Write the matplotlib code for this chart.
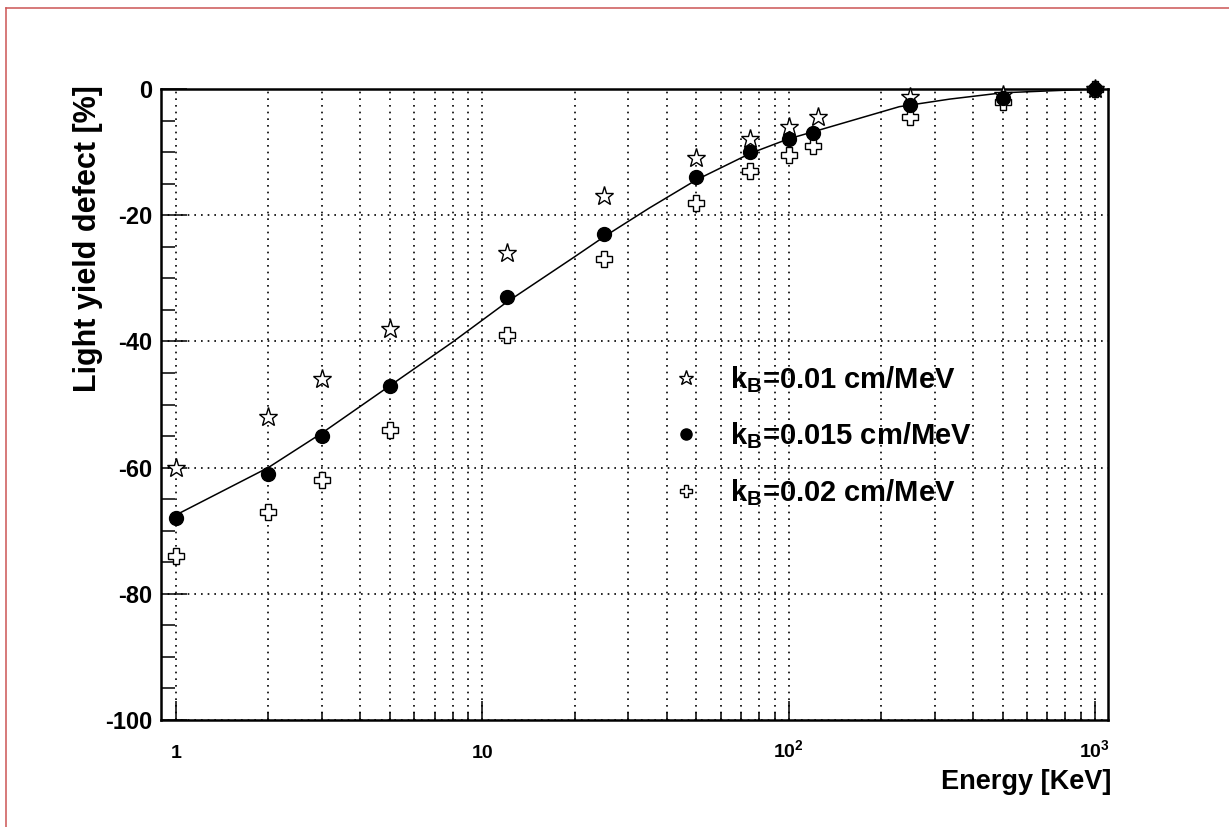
import matplotlib
matplotlib.use("Agg")
from matplotlib import pyplot as plt
from matplotlib.lines import Line2D
from matplotlib.ticker import FixedLocator, FixedFormatter, MultipleLocator, NullFormatter

plt.rcParams['font.family'] = ['Liberation Sans', 'DejaVu Sans']
plt.rcParams['font.weight'] = 'bold'
plt.rcParams['axes.unicode_minus'] = False
plt.rcParams['mathtext.fontset'] = 'custom'
plt.rcParams['mathtext.rm'] = 'Liberation Sans:bold'
plt.rcParams['mathtext.bf'] = 'Liberation Sans:bold'
plt.rcParams['mathtext.it'] = 'Liberation Sans:bold'

# energies [keV]
energy = [1, 2, 3, 5, 12, 25, 50, 75, 100, 120, 250, 500, 1000]
energy_star = [1, 2, 3, 5, 12, 25, 50, 75, 100, 125, 250, 500, 1000]

# light yield defect [%]
defect_kb010 = [-60, -52, -46, -38, -26, -17, -11, -8, -6, -4.5, -1.3, -1, 0]
defect_kb015 = [-68, -61, -55, -47, -33, -23, -14, -10, -8, -7, -2.5, -1.4, 0]
defect_kb020 = [-74, -67, -62, -54, -39, -27, -18, -13, -10.5, -9, -4.4, -2, 0]

# fitted curve
fit_x = [1, 2, 3, 5, 8, 12, 20, 25, 35, 50, 75, 100, 120, 230, 336, 500, 1000]
fit_y = [-67.5, -60, -54.5, -47, -40.1, -33.8, -26.6, -23.4, -18.9, -14.4,
         -10.2, -7.9, -6.8, -2.8, -1.6, -0.6, 0]

labels = ['k$_\\mathbf{B}$=0.01 cm/MeV',
          'k$_\\mathbf{B}$=0.015 cm/MeV',
          'k$_\\mathbf{B}$=0.02 cm/MeV']

fig = plt.figure(figsize=(12.29, 8.27), dpi=100)
ax = fig.add_axes([161 / 1229, 1 - 720 / 827, 947 / 1229, 631 / 827])

ax.plot(fit_x, fit_y, color='black', linewidth=1.1, zorder=3)
h1, = ax.plot(energy_star, defect_kb010, linestyle='none', marker='*',
              markersize=14, markerfacecolor='white', markeredgecolor='black',
              markeredgewidth=1.0, zorder=4, clip_on=False)
h2, = ax.plot(energy, defect_kb015, linestyle='none', marker='o',
              markersize=10, color='black', zorder=5, clip_on=False)
h3, = ax.plot(energy, defect_kb020, linestyle='none', marker='P',
              markersize=11, markerfacecolor='white', markeredgecolor='black',
              markeredgewidth=1.0, zorder=4, clip_on=False)

ax.set_xscale('log')
ax.set_xlim(0.893, 1104)
ax.set_ylim(-100, 0)

# ticks, ROOT style (inside, only bottom / left)
ax.xaxis.set_major_locator(FixedLocator([1, 10, 100, 1000]))
ax.xaxis.set_major_formatter(FixedFormatter(['1', '10', '10$^{2}$', '10$^{3}$']))
minors = [m * d for d in [1, 10, 100] for m in range(2, 10)]
ax.xaxis.set_minor_locator(FixedLocator(minors))
ax.xaxis.set_minor_formatter(NullFormatter())
ax.yaxis.set_major_locator(MultipleLocator(20))
ax.yaxis.set_minor_locator(MultipleLocator(5))

ax.tick_params(axis='x', which='major', direction='in', length=13.7, width=1.1,
               labelsize=14, pad=27, top=False)
ax.tick_params(axis='x', which='minor', direction='in', length=5.5, width=1.1,
               top=False)
ax.tick_params(axis='y', which='major', direction='in', length=19, width=1.1,
               labelsize=17, pad=6, right=False)
ax.tick_params(axis='y', which='minor', direction='in', length=10, width=1.1,
               right=False)
for lab in ax.get_xticklabels():
    lab.set_verticalalignment('baseline')
    lab.set_fontweight('bold')
for lab in ax.get_yticklabels():
    lab.set_fontweight('bold')

ax.grid(which='major', axis='both', color='black', linestyle=(0, (1, 3)),
        linewidth=1.2)
ax.grid(which='minor', axis='x', color='black', linestyle=(0, (1, 3)),
        linewidth=1.2)
ax.set_axisbelow(True)

for s in ax.spines.values():
    s.set_linewidth(1.8)

ax.set_xlabel('Energy [KeV]', fontsize=19.5, fontweight='bold', loc='right')
ax.xaxis.set_label_coords(1.004, -0.077)
ax.set_ylabel('Light yield defect [%]', fontsize=22, fontweight='bold', loc='top')
ax.yaxis.set_label_coords(-0.061, 1.006)

ax.legend([h1, h2, h3], labels, loc='upper left', bbox_to_anchor=(0.5389, 0.5636),
          frameon=False, numpoints=1, handlelength=1.0, handletextpad=1.0,
          labelspacing=0.87, borderpad=0, borderaxespad=0, markerscale=0.8,
          prop={'size': 21, 'weight': 'bold'})

# thin red frame of the canvas
fig.add_artist(Line2D([6.5 / 1229, 6.5 / 1229], [0, 1 - 7.5 / 827],
                      transform=fig.transFigure, color='#cc5555', linewidth=1.1))
fig.add_artist(Line2D([6.5 / 1229, 1], [1 - 7.5 / 827, 1 - 7.5 / 827],
                      transform=fig.transFigure, color='#cc5555', linewidth=1.1))

fig.savefig('out.png', dpi=100)
